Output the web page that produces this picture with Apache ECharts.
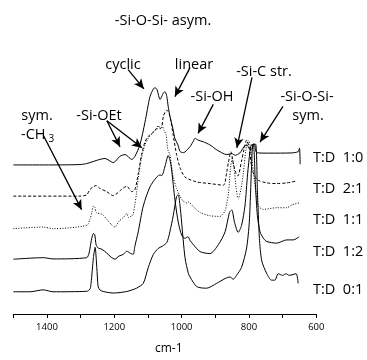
<!DOCTYPE html>
<html>
<head>
<meta charset="utf-8">
<script src="https://cdn.jsdelivr.net/npm/echarts@6/dist/echarts.min.js"></script>
<style>
  html, body { margin: 0; padding: 0; background: #fff; }
  #chart { width: 367px; height: 360px; }
</style>
</head>
<body>
<div id="chart"></div>
<script>
// IR spectra, [wavenumber cm-1, absorbance above own baseline] (arb. units)
const spec10 = [
  [1500,0],[1382,0],[1302,0.4],[1282,1.4],[1243,5.7],[1228,6.7],[1203,2.4],[1183,9],[1168,10.7],
  [1148,5.7],[1139,8.7],[1124,20.7],[1109,44],[1094,70.7],[1084,78.7],[1079,80],[1073,77.7],
  [1064,67.7],[1054,74.7],[1049,75.7],[1044,70.7],[1040,60.7],[1035,50.7],[1026,37.7],[1020,27.4],
  [1011,20.7],[1005,14],[995,12.7],[990,13.4],[975,19],[965,24.7],[960,27.4],[951,25.7],[936,24],
  [916,20.7],[896,15.7],[866,10.7],[851,11.7],[841,10],[827,12.4],[815,18.7],[807,20.7],[800,17.7],
  [792,15.7],[788,21],[784,21.7],[779,13.7],[772,12.4],[738,12.2],[675,12.4],[654,13.7],[650,17.4],[648,0.7]
]
const spec21 = [
  [1500,0],[1302,0],[1282,1.3],[1272,7],[1262,9.7],[1254,11],[1243,8],[1223,4.7],[1203,0.5],
  [1178,7],[1163,10.3],[1148,4.7],[1139,6.3],[1129,23],[1119,43],[1109,56],[1099,62],[1089,64.7],
  [1074,69.7],[1064,69.7],[1059,71.3],[1054,83],[1044,89],[1035,83],[1025,63],[1015,43],[1005,29.7],
  [990,19.7],[955,14.7],[916,13],[876,11.3],[866,25],[861,35],[854,46],[846,33],[838,23],[833,21],
  [822,36.3],[815,48],[807,58],[800,51],[791,28],[782,20],[772,16.3],[747,13.7],[718,13],[688,13.7],[658,15.7]
]
const spec11 = [
  [1500,0],[1411,1.7],[1382,0],[1282,3.4],[1272,10],[1267,16.7],[1262,23.4],[1257,21.7],[1254,16.7],
  [1237,15],[1223,10],[1210,4.7],[1198,1.7],[1186,7.7],[1173,11.7],[1163,15.7],[1158,11.7],[1148,13.4],
  [1144,14.7],[1139,24.7],[1134,36.7],[1129,51.7],[1119,73.7],[1109,86.7],[1099,93.7],[1089,97.7],
  [1074,103.7],[1069,106.7],[1064,103.7],[1059,106.7],[1052,101.7],[1046,96.7],[1041,81.7],[1035,76.7],
  [1025,53.4],[1015,41.7],[1005,33.7],[995,28.4],[985,26.7],[980,27.7],[965,22.7],[945,16.7],[916,13.4],
  [886,12.7],[871,18.7],[861,36.7],[855,61.7],[850,72.7],[844,61.7],[838,41.7],[832,30.7],[824,40.7],
  [817,56.7],[809,81.7],[802,91.7],[797,86.7],[779,36.7],[772,23.4],[757,20],[718,21.7],[688,21.7],
  [672,24.7],[651,26.7]
]
const spec12 = [
  [1500,0.7],[1411,2.3],[1382,1],[1282,2.3],[1275,7],[1272,12.3],[1267,22.3],[1262,27.3],[1258,26],
  [1254,15.7],[1248,12.3],[1237,11],[1223,7.3],[1210,3],[1198,0.7],[1186,4],[1173,5.7],[1163,9],
  [1153,7],[1144,5.7],[1139,14],[1129,29],[1114,55.7],[1094,75.7],[1074,85.7],[1064,88],[1059,87.3],
  [1049,97.3],[1040,108],[1035,104],[1030,94],[1020,62.3],[1010,39],[1000,25.7],[990,22.3],[981,24],
  [975,20],[965,15.7],[945,8.5],[916,6.5],[891,15.7],[871,29],[858,49],[851,51.7],[843,39],[832,28.5],
  [822,35.7],[812,55.7],[804,89],[797,112.3],[793,119],[787,119.5],[781,79],[775,45.7],[767,29],
  [757,22.3],[747,19],[718,17.3],[688,20.7],[668,20.7],[651,24]
]
const spec01 = [
  [1500,0],[1450,0],[1411,2],[1382,0],[1282,0.5],[1272,3],[1269,8.7],[1262,35.3],[1257,46],[1252,25.3],
  [1248,5.3],[1243,2],[1233,0.3],[1203,-1.3],[1163,0.3],[1134,3.7],[1114,8.7],[1099,25.3],[1084,38.7],
  [1069,45],[1058,47],[1044,51],[1035,62],[1025,78.7],[1015,98.7],[1010,100.3],[1005,90],[1000,72],
  [990,35.3],[980,19],[975,15.3],[955,5.3],[926,3.7],[896,8.7],[871,13.7],[856,15.3],[847,13],[837,17],
  [822,25.3],[807,45.3],[799,72],[795,105.3],[792,132],[788,152.7],[780,152.7],[775,105.3],[769,55.3],
  [762,32],[747,18.7],[733,12],[723,12],[713,18.7],[700,17],[690,18.7],[680,17],[660,18.7],[654,8.7]
]

const spectra = [spec10, spec21, spec11, spec12, spec01]
const ratios = ['T:D  1:0', 'T:D  2:1', 'T:D  1:1', 'T:D  1:2', 'T:D  0:1']
const offsets = [154.3, 122, 88.3, 56, 23]   // vertical stacking of the spectra
const dashes = ['solid', [3, 2], [1, 1.6], 'solid', 'solid']

// band assignments: arrow tail -> head, in [cm-1, y] of the plot
const arrows = [
  [[1159, 253], [1112, 233]],  // cyclic
  [[975, 255], [1020, 225]],   // linear
  [[906, 217], [951, 187]],    // -Si-OH
  [[791, 245], [836, 172]],    // -Si-C str.
  [[699, 215], [767, 178]],    // -Si-O-Si- sym.
  [[1222, 200], [1183, 173]],  // -Si-OEt
  [[1222, 200], [1118, 172]],
  [[1411, 185], [1297, 108]]   // sym. -CH3
]

const FONT = 'Open Sans'
const FS = 14.5
let myChart = echarts.init(document.getElementById('chart'))

let series = spectra.map((s, i) => ({
  type: 'line',
  name: ratios[i],
  data: s.map(p => [p[0], p[1] + offsets[i]]),
  showSymbol: false,
  smooth: 0.25,
  silent: true,
  lineStyle: { color: '#000', width: 1, type: dashes[i] }
}))
series[0].markLine = {
  silent: true,
  symbol: ['none', 'arrow'],
  symbolSize: [7, 10],
  label: { show: false },
  lineStyle: { color: '#000', width: 1.3, type: 'solid' },
  data: arrows.map(a => [{ coord: a[0] }, { coord: a[1] }])
}

function txt(text, x, y, align) {
  return {
    type: 'text', x: x, y: y,
    style: { text: text, fill: '#000', font: FS + 'px "' + FONT + '"', align: align || 'center', verticalAlign: 'middle' }
  }
}

let graphics = [
  txt('-Si-O-Si- asym.', 163, 21),
  txt('cyclic', 123, 65),
  txt('linear', 194, 65),
  txt('-Si-C str.', 264, 72),
  txt('-Si-OH', 212, 97),
  txt('-Si-O-Si-', 307, 97),
  txt('sym.', 308, 116),
  txt('sym.', 37, 116),
  txt('-Si-OEt', 99, 116),
  {
    type: 'text', x: 21, y: 135,
    style: {
      text: '-CH{s|3}', fill: '#000', font: FS + 'px "' + FONT + '"', verticalAlign: 'middle',
      rich: { s: { fontSize: 10, fontFamily: FONT, padding: [8, 0, 0, 3] } }
    }
  }
]
const labelY = [158, 189, 220, 252, 290]
ratios.forEach((r, i) => graphics.push(txt(r, 313, labelY[i], 'left')))

let option = {
  animation: false,
  grid: { left: 13.3, right: 50.7, top: 0, bottom: 35 },
  xAxis: {
    type: 'value',
    inverse: true,
    min: 600,
    max: 1500,
    interval: 100,
    name: 'cm-1',
    nameLocation: 'middle',
    nameGap: 29,
    nameTextStyle: { color: '#000', fontSize: 12, fontFamily: FONT, padding: [0, 0, 0, 8] },
    axisLine: { lineStyle: { color: '#000', width: 1 } },
    axisTick: { length: 4, lineStyle: { color: '#000' } },
    axisLabel: {
      color: '#000', fontSize: 9.5, fontFamily: FONT, margin: 8,
      formatter: v => (v % 200 === 0 ? String(v) : '')
    },
    splitLine: { show: false }
  },
  yAxis: { type: 'value', min: 0, max: 325, show: false },
  series: series,
  graphic: graphics
}
myChart.setOption(option)
window.addEventListener('resize', function () {
  myChart.resize()
})
</script>
</body>
</html>
